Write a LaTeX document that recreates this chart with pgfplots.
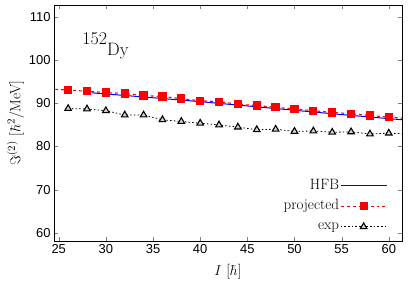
\documentclass[border=0pt]{standalone}
\usepackage{fontspec}
\usepackage{pgfplots}
\pgfplotsset{compat=1.18}
\newfontfamily\arial{Liberation Sans}
\begin{document}
\begin{tikzpicture}
\begin{axis}[
  at={(0,0)}, anchor=south west,
  scale only axis, width=348bp, height=236bp,
  xmin=24.5, xmax=61.4, ymin=58.1, ymax=112.8,
  xtick={25,30,...,60}, ytick={60,70,...,110},
  tick align=inside, major tick length=4.5pt,
  ticklabel style={font=\arial\fontsize{13}{15}\selectfont},
  /pgf/number format/assume math mode=true,
  xlabel={$I$ [$\hbar$]}, ylabel={$\Im^{(2)}$ [$\hbar^2$/MeV]},
  label style={font=\fontsize{15}{17}\selectfont},
  xlabel style={yshift=-4pt},
  ylabel style={yshift=-2pt},
  axis line style={line width=0.8pt},
  clip marker paths=true,
  legend style={draw=none, fill=none, font=\fontsize{15}{17}\selectfont, row sep=4pt, inner sep=0pt,
     nodes={inner sep=1pt, text height=10.5pt, text depth=4pt},
     at={(0.958,0.025)}, anchor=south east},
  legend cell align=right,
  legend plot pos=right,
  legend image code/.code={\draw[mark repeat=2,mark phase=2,#1] plot coordinates {(0bp,0bp)(23bp,0bp)(46bp,0bp)};},
]
\addplot[blue, line width=1pt] coordinates {
 (28.5,92.45) (35,91.3) (40,90.4) (45,89.4) (50,88.4) (55,87.4) (61.4,86.2)};
\addlegendentry{HFB}
\addplot[red, line width=1.1pt, dash pattern=on 3pt off 3pt, mark=square*, mark size=3.6pt, mark options={solid}] coordinates {
 (24,93.3) (26,93.1) (28,92.8) (30,92.5) (32,92.3) (34,91.8) (36,91.6) (38,91.1) (40,90.6) (42,90.4) (44,89.8) (46,89.5) (48,89.1) (50,88.7) (52,88.3) (54,87.9) (56,87.6) (58,87.2) (60,86.8) (62,86.5)};
\addlegendentry{projected}
\addplot[black, line width=0.8pt, dash pattern=on 1.5pt off 2.2pt, mark=triangle*, mark size=3.8pt, mark options={solid, fill=gray!35, draw=black, line width=1.1pt}] coordinates {
 (26,88.8) (28,88.7) (30,88.3) (32,87.3) (34,87.3) (36,86.2) (38,85.8) (40,85.4) (42,85.0) (44,84.5) (46,83.9) (48,84.0) (50,83.5) (52,83.6) (54,83.3) (56,83.4) (58,82.9) (60,83.1) (62,82.9)};
\addlegendentry{exp}
\node[anchor=base west, inner sep=0pt, font=\fontsize{18}{20}\selectfont] at (axis cs:27.5,101.2) {\raisebox{1.3ex}{152}Dy};
\end{axis}
\pgfresetboundingbox
\path[use as bounding box] (-54bp,-42bp) rectangle (355bp,241bp);
\end{tikzpicture}
\end{document}
